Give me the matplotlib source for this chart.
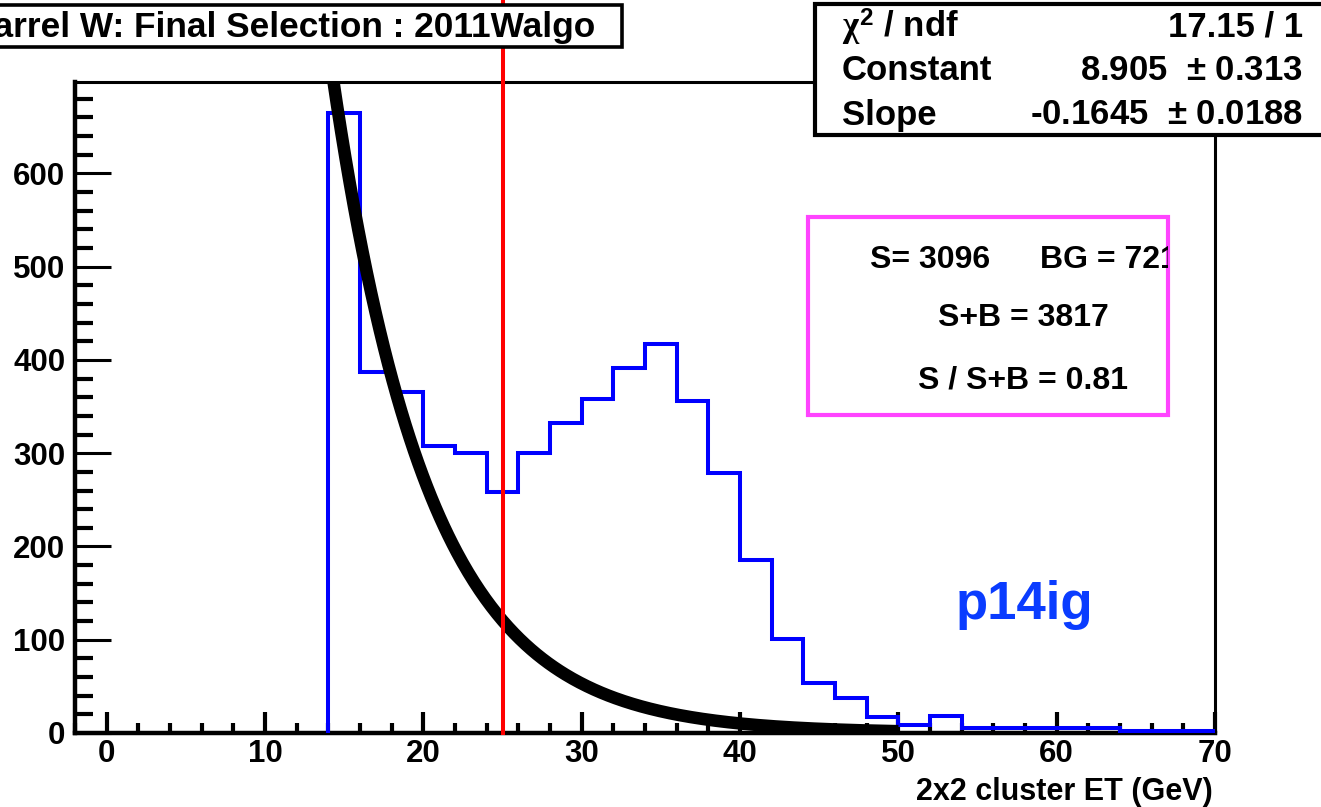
import numpy as np
import matplotlib.pyplot as plt
from matplotlib.patches import Rectangle
from matplotlib.ticker import MultipleLocator

plt.rcParams['font.family'] = ['Liberation Sans', 'DejaVu Sans']
plt.rcParams['font.weight'] = 'bold'
plt.rcParams['mathtext.fontset'] = 'custom'
plt.rcParams['mathtext.it'] = 'Liberation Serif'
plt.rcParams['mathtext.rm'] = 'Liberation Sans:bold'

# 2x2 cluster ET histogram, 2 GeV bins from 14 to 70
bin_lo = 14
bin_hi = 70
bin_w = 2
counts = [665, 387, 366, 308, 300, 258, 300, 332, 358, 391, 417, 356, 279, 186,
          101, 54, 38, 17, 9, 18, 5, 5, 5, 5, 5, 2, 2, 2]

# expo fit: exp(const + slope*x)
fit_const = 8.905
fit_const_err = 0.313
fit_slope = -0.1645
fit_slope_err = 0.0188
chi2 = 17.15
ndf = 1
fit_lo, fit_hi = 14, 50

et_cut = 25
n_sig, n_bg = 3096, 721

title = "Barrel W: Final Selection : 2011Walgo"
xlabel = "2x2 cluster ET (GeV)"

W, H = 1321, 807
fig = plt.figure(figsize=(W / 100, H / 100), dpi=100)


def fx(px):
    return px / W


def fy(py):
    return 1 - py / H


ax = fig.add_axes([fx(75), fy(733), fx(1215) - fx(75), fy(82) - fy(733)])

edges = np.arange(bin_lo, bin_hi + bin_w, bin_w)
ax.stairs(counts, edges, baseline=0, color='#0000ff', lw=2.9, zorder=3)

xf = np.linspace(fit_lo, fit_hi, 400)
ax.plot(xf, np.exp(fit_const + fit_slope * xf), color='black', lw=9,
        solid_capstyle='butt', zorder=4)

ax.axvline(et_cut, ymin=0, ymax=733 / (733 - 82), color='red', lw=2.9,
           clip_on=False, zorder=10)

ax.set_xlim(-2, 70)
ax.set_ylim(0, 698)
ax.xaxis.set_major_locator(MultipleLocator(10))
ax.xaxis.set_minor_locator(MultipleLocator(2))
ax.yaxis.set_major_locator(MultipleLocator(100))
ax.yaxis.set_minor_locator(MultipleLocator(20))
ax.tick_params(axis='x', which='major', direction='in', length=15, width=3,
               labelsize=22.5, pad=4)
ax.tick_params(axis='x', which='minor', direction='in', length=7.5, width=3)
ax.tick_params(axis='y', which='major', direction='in', length=26, width=2.2,
               labelsize=22.5, pad=7)
ax.tick_params(axis='y', which='minor', direction='in', length=13, width=3)
for lab in ax.get_xticklabels() + ax.get_yticklabels():
    lab.set_fontweight('bold')
for s in ['left', 'bottom']:
    ax.spines[s].set_linewidth(3.2)
for s in ['top', 'right']:
    ax.spines[s].set_linewidth(2.2)

fig.text(fx(1213), fy(792), xlabel, ha='right', va='center', fontsize=22,
         fontweight='bold')

# title box, cut by the left edge
fig.patches.append(Rectangle((fx(-10), fy(47)), fx(632), fy(5) - fy(47),
                             transform=fig.transFigure, facecolor='white',
                             edgecolor='black', lw=2.6, zorder=5))
fig.text(fx(595), fy(27), title, ha='right', va='center', fontsize=25.4,
         fontweight='bold', zorder=6)

# fit stats box, cut by the right edge
fig.patches.append(Rectangle((fx(815), fy(135)), fx(530), fy(4) - fy(135),
                             transform=fig.transFigure, facecolor='white',
                             edgecolor='black', lw=3, zorder=5))
stat_rows = [(r"$\chi^{2}$ / ndf", f"{chi2:.2f} / {ndf}"),
             ("Constant", f"{fit_const:.3f}  $\\pm$ {fit_const_err:.3f}"),
             ("Slope", f"{fit_slope:.4f}  $\\pm$ {fit_slope_err:.4f}")]
for i, (name, val) in enumerate(stat_rows):
    yy = fy(27 + 44 * i)
    fig.text(fx(842), yy, name, ha='left', va='center', fontsize=25,
             fontweight='bold', zorder=6)
    fig.text(fx(1303), yy, val, ha='right', va='center', fontsize=25,
             fontweight='bold', zorder=6)

# S / BG box
sb_box = Rectangle((fx(808), fy(415)), fx(1168) - fx(808), fy(217) - fy(415),
                   transform=fig.transFigure, facecolor='white',
                   edgecolor='#ff44ff', lw=3, zorder=5)
fig.patches.append(sb_box)
fig.text(fx(870), fy(260), f"S= {n_sig}", ha='left', va='center',
         fontsize=23, fontweight='bold', zorder=6)
t2 = fig.text(fx(1040), fy(260), f"BG = {n_bg}", ha='left', va='center',
              fontsize=23, fontweight='bold', zorder=6)
t2.set_clip_path(sb_box)
fig.text(fx(1023), fy(318), f"S+B = {n_sig + n_bg}", ha='center', va='center',
         fontsize=23, fontweight='bold', zorder=6)
fig.text(fx(1023), fy(380), f"S / S+B = {n_sig / (n_sig + n_bg):.2f}",
         ha='center', va='center', fontsize=23, fontweight='bold', zorder=6)

fig.text(fx(1024), fy(605), "p14ig", ha='center', va='center', fontsize=38,
         fontweight='bold', color='#0a3cff')

fig.savefig('out.png', dpi=100)
